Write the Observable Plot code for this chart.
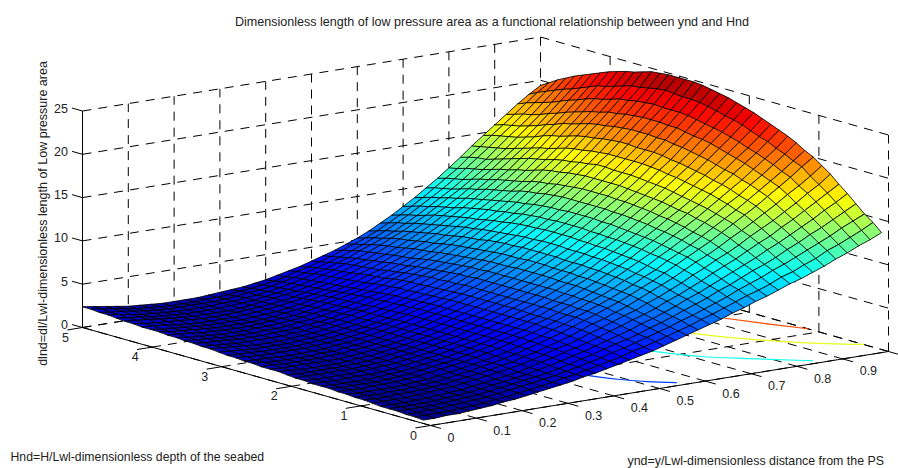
<!DOCTYPE html>
<html>
<head>
<meta charset="utf-8">
<style>html,body{margin:0;padding:0;background:#fff}svg{display:block}</style>
<script src="https://cdn.jsdelivr.net/npm/d3@7"></script>
<script src="https://cdn.jsdelivr.net/npm/@observablehq/plot@0.6"></script>
</head>
<body>
<div id="chart"></div>
<script>
const titleText = "Dimensionless length of low pressure area as a functional relationship between ynd and Hnd";
const zLabel = "dlnd=dl/Lwl-dimensionless length of Low pressure area";
const hLabel = "Hnd=H/Lwl-dimensionless depth of the seabed";
const yLabel = "ynd=y/Lwl-dimensionless distance from the PS";
const yTicks = [0, 0.1, 0.2, 0.3, 0.4, 0.5, 0.6, 0.7, 0.8, 0.9, 1];
const yTickLabels = [0, 0.1, 0.2, 0.3, 0.4, 0.5, 0.6, 0.7, 0.8, 0.9];
const hTicks = [0, 1, 2, 3, 4, 5];
const zTicks = [0, 5, 10, 15, 20, 25];
const yndValues = [0,.025,.05,.075,.1,.125,.15,.175,.2,.225,.25,.275,.3,.325,.35,.375,.4,.425,.45,.475,.5,.525,.55,.575,.6,.625,.65,.675,.7,.725,.75,.775,.8,.825,.85,.875,.9,.925,.95,.975,1];
const hndValues = [.1,.2225,.345,.4675,.59,.7125,.835,.9575,1.08,1.2025,1.325,1.4475,1.57,1.6925,1.815,1.9375,2.06,2.1825,2.305,2.4275,2.55,2.6725,2.795,2.9175,3.04,3.1625,3.285,3.4075,3.53,3.6525,3.775,3.8975,4.02,4.1425,4.265,4.3875,4.51,4.6325,4.755,4.8775,5];
const dlndRows = [
".4 .4 .5 .5 .6 .7 .8 1 1.1 1.3 1.5 1.7 1.9 2.1 2.4 2.6 2.9 3.2 3.5 3.8 4.1 4.5 4.9 5.3 5.7 6.1 6.5 7 7.4 7.9 8.3 8.8 9.3 9.7 10.2 10.7 11.3 11.8 12.4 12.9 13.5",
".5 .5 .5 .5 .6 .7 .8 1 1.1 1.3 1.5 1.7 1.9 2.2 2.4 2.7 3 3.3 3.6 4 4.3 4.7 5.1 5.5 5.9 6.4 6.8 7.3 7.8 8.3 8.7 9.2 9.8 10.2 10.8 11.3 12 12.5 13.1 13.7 14.4",
".5 .5 .6 .6 .7 .8 .9 1 1.2 1.4 1.6 1.8 2 2.2 2.5 2.8 3.1 3.4 3.8 4.1 4.5 4.9 5.3 5.7 6.2 6.6 7.1 7.6 8.1 8.7 9.2 9.7 10.3 10.8 11.4 12 12.6 13.2 13.9 14.5 15.1",
".6 .6 .6 .6 .7 .8 .9 1 1.2 1.4 1.6 1.8 2 2.2 2.5 2.8 3.2 3.5 3.9 4.3 4.6 5 5.5 5.9 6.4 6.9 7.4 7.9 8.5 9 9.6 10.2 10.7 11.3 12 12.6 13.3 13.9 14.6 15.3 16",
".6 .6 .6 .6 .7 .8 .9 1 1.2 1.4 1.6 1.8 2 2.3 2.6 2.9 3.3 3.6 4 4.4 4.8 5.2 5.7 6.1 6.6 7.1 7.7 8.2 8.8 9.4 10 10.6 11.2 11.9 12.5 13.2 13.9 14.6 15.4 16.1 16.9",
".6 .6 .6 .7 .7 .8 .9 1 1.2 1.4 1.6 1.8 2 2.3 2.7 3 3.4 3.7 4.1 4.5 5 5.4 5.9 6.3 6.8 7.4 7.9 8.5 9.1 9.8 10.4 11 11.7 12.4 13 13.8 14.5 15.3 16.1 16.9 17.7",
".7 .7 .7 .7 .8 .9 1 1.1 1.3 1.5 1.7 1.9 2.1 2.4 2.7 3.1 3.5 3.8 4.2 4.7 5.1 5.6 6.1 6.5 7.1 7.6 8.2 8.8 9.5 10.1 10.8 11.4 12.1 12.9 13.6 14.3 15.1 15.9 16.8 17.6 18.6",
".8 .7 .7 .8 .8 .9 1 1.1 1.3 1.5 1.7 1.9 2.2 2.4 2.8 3.1 3.5 3.9 4.3 4.8 5.3 5.7 6.2 6.7 7.3 7.9 8.5 9.1 9.8 10.5 11.1 11.8 12.6 13.3 14.1 14.9 15.7 16.6 17.4 18.3 19.3",
".8 .8 .7 .8 .8 .9 1 1.1 1.3 1.5 1.7 2 2.2 2.5 2.8 3.2 3.6 4 4.4 4.9 5.4 5.9 6.4 6.9 7.5 8.1 8.7 9.4 10.1 10.8 11.5 12.2 13 13.8 14.6 15.4 16.3 17.2 18.1 19.1 20",
".9 .8 .8 .8 .8 .9 1 1.1 1.3 1.5 1.7 2 2.2 2.5 2.8 3.2 3.6 4 4.5 4.9 5.5 6 6.5 7 7.6 8.2 8.9 9.5 10.3 11 11.7 12.5 13.3 14.1 14.9 15.8 16.7 17.6 18.5 19.5 20.5",
".9 .9 .8 .9 .9 1 1.1 1.2 1.4 1.6 1.8 2 2.3 2.6 2.9 3.3 3.7 4.1 4.5 5 5.5 6 6.6 7.1 7.7 8.4 9 9.7 10.5 11.2 12 12.7 13.6 14.4 15.3 16.1 17.1 18 19 20 21.1",
"1 .9 .9 .9 .9 1 1.1 1.2 1.4 1.6 1.8 2 2.3 2.6 2.9 3.3 3.7 4.1 4.6 5 5.5 6.1 6.6 7.2 7.8 8.5 9.2 9.9 10.6 11.4 12.2 13 13.8 14.7 15.6 16.5 17.4 18.4 19.4 20.4 21.6",
"1 .9 .9 .9 .9 1 1.1 1.2 1.4 1.6 1.8 2 2.3 2.6 2.9 3.3 3.7 4.1 4.6 5 5.6 6.1 6.7 7.3 7.9 8.6 9.3 10 10.8 11.6 12.4 13.2 14.1 14.9 15.9 16.8 17.8 18.8 19.8 20.9 22",
"1 1 .9 1 1 1 1.1 1.2 1.4 1.6 1.8 2 2.3 2.6 2.9 3.3 3.7 4.1 4.6 5 5.6 6.1 6.7 7.4 8 8.7 9.4 10.1 10.9 11.7 12.5 13.4 14.2 15.1 16.1 17 18 19.1 20.1 21.2 22.4",
"1.1 1 1 1 1 1.1 1.2 1.3 1.4 1.6 1.8 2 2.3 2.6 2.9 3.3 3.7 4.1 4.6 5.1 5.6 6.2 6.8 7.4 8 8.7 9.5 10.2 11 11.8 12.7 13.5 14.4 15.3 16.3 17.3 18.3 19.4 20.5 21.6 22.8",
"1.1 1.1 1.1 1.1 1.1 1.1 1.2 1.3 1.4 1.6 1.8 2 2.3 2.6 2.9 3.3 3.7 4.1 4.6 5.1 5.6 6.2 6.8 7.4 8.1 8.8 9.5 10.3 11.1 11.9 12.8 13.7 14.6 15.5 16.5 17.5 18.6 19.7 20.8 22 23.2",
"1.2 1.1 1.1 1.1 1.1 1.1 1.2 1.3 1.4 1.6 1.8 2 2.3 2.6 2.9 3.3 3.7 4.1 4.6 5.1 5.6 6.2 6.8 7.5 8.1 8.8 9.6 10.3 11.1 12 12.9 13.8 14.7 15.7 16.7 17.7 18.8 20 21.1 22.3 23.5",
"1.3 1.2 1.1 1.1 1.1 1.1 1.2 1.3 1.4 1.6 1.8 2 2.3 2.6 2.9 3.3 3.7 4.1 4.6 5.1 5.6 6.2 6.8 7.5 8.1 8.8 9.6 10.4 11.2 12.1 13 13.9 14.8 15.8 16.8 17.9 19 20.2 21.3 22.5 23.8",
"1.3 1.2 1.2 1.2 1.2 1.2 1.2 1.3 1.4 1.6 1.8 2 2.3 2.6 2.9 3.3 3.7 4.1 4.6 5.1 5.6 6.2 6.8 7.5 8.2 8.9 9.6 10.4 11.2 12.1 13 14 14.9 15.9 17 18 19.2 20.3 21.5 22.8 24.1",
"1.3 1.3 1.2 1.2 1.2 1.2 1.3 1.3 1.5 1.6 1.8 2 2.3 2.6 2.9 3.3 3.7 4.1 4.6 5.1 5.6 6.2 6.8 7.5 8.2 8.9 9.7 10.5 11.3 12.2 13.1 14 15 16 17.1 18.2 19.3 20.5 21.7 23 24.3",
"1.4 1.3 1.2 1.2 1.2 1.2 1.3 1.3 1.5 1.6 1.8 2 2.3 2.6 2.9 3.3 3.7 4.1 4.6 5.1 5.6 6.2 6.8 7.5 8.2 8.9 9.7 10.5 11.3 12.2 13.1 14.1 15.1 16.1 17.2 18.3 19.5 20.7 21.9 23.2 24.5",
"1.4 1.3 1.3 1.2 1.2 1.2 1.3 1.3 1.5 1.6 1.8 2 2.3 2.6 2.9 3.3 3.7 4.1 4.6 5.1 5.6 6.2 6.8 7.4 8.1 8.9 9.7 10.5 11.3 12.2 13.1 14.1 15.1 16.1 17.2 18.3 19.5 20.7 22 23.3 24.7",
"1.5 1.4 1.3 1.3 1.3 1.3 1.3 1.4 1.5 1.6 1.8 2 2.3 2.6 2.9 3.3 3.7 4.1 4.5 5 5.6 6.2 6.8 7.4 8.1 8.9 9.6 10.5 11.3 12.2 13.1 14.1 15.1 16.1 17.2 18.3 19.6 20.8 22 23.3 24.8",
"1.5 1.4 1.4 1.3 1.3 1.3 1.3 1.4 1.5 1.6 1.8 2 2.2 2.5 2.8 3.2 3.6 4 4.5 5 5.5 6.1 6.7 7.4 8.1 8.8 9.6 10.4 11.2 12.1 13.1 14.1 15.1 16.2 17.2 18.4 19.6 20.8 22 23.4 24.8",
"1.6 1.5 1.4 1.3 1.3 1.3 1.3 1.4 1.5 1.6 1.8 2 2.2 2.5 2.8 3.2 3.6 4 4.4 4.9 5.5 6.1 6.7 7.3 8 8.8 9.5 10.4 11.2 12.1 13.1 14 15.1 16.2 17.2 18.4 19.6 20.8 22.1 23.5 24.8",
"1.7 1.6 1.5 1.4 1.3 1.3 1.3 1.4 1.5 1.6 1.8 2 2.2 2.5 2.8 3.1 3.5 3.9 4.4 4.9 5.4 6 6.6 7.2 7.9 8.7 9.4 10.3 11.1 12 13 13.9 15 16 17.1 18.3 19.5 20.7 22 23.4 24.8",
"1.7 1.6 1.5 1.4 1.4 1.4 1.4 1.4 1.5 1.6 1.8 2 2.2 2.5 2.8 3.1 3.5 3.9 4.3 4.8 5.4 5.9 6.5 7.1 7.8 8.6 9.3 10.2 11 11.9 12.9 13.8 14.9 15.9 17 18.2 19.4 20.6 21.9 23.2 24.7",
"1.8 1.6 1.6 1.5 1.4 1.4 1.4 1.5 1.5 1.6 1.8 1.9 2.1 2.4 2.7 3 3.4 3.8 4.3 4.8 5.3 5.8 6.4 7 7.7 8.4 9.2 10 10.8 11.7 12.7 13.6 14.7 15.7 16.8 18 19.2 20.4 21.7 23 24.6",
"1.8 1.7 1.6 1.5 1.4 1.4 1.4 1.5 1.5 1.6 1.8 1.9 2.1 2.4 2.7 3 3.4 3.7 4.2 4.7 5.2 5.7 6.3 6.9 7.6 8.3 9.1 9.9 10.7 11.6 12.6 13.5 14.6 15.6 16.7 17.9 19.1 20.3 21.6 22.9 24.3",
"1.9 1.7 1.6 1.5 1.4 1.4 1.4 1.5 1.5 1.6 1.7 1.9 2.1 2.3 2.6 2.9 3.3 3.6 4.1 4.6 5.1 5.6 6.2 6.8 7.5 8.2 8.9 9.7 10.5 11.4 12.4 13.3 14.4 15.4 16.5 17.7 18.9 20 21.3 22.6 24",
"1.9 1.8 1.7 1.5 1.5 1.4 1.4 1.4 1.5 1.6 1.7 1.8 2 2.3 2.6 2.9 3.2 3.5 4 4.4 4.9 5.4 6 6.6 7.3 8 8.8 9.5 10.4 11.2 12.1 13 14.1 15.1 16.2 17.4 18.6 19.8 21 22.3 23.8",
"2 1.8 1.7 1.6 1.5 1.4 1.4 1.4 1.4 1.5 1.6 1.8 2 2.2 2.5 2.8 3.1 3.4 3.8 4.3 4.8 5.3 5.8 6.5 7.1 7.8 8.6 9.4 10.2 11 11.9 12.8 13.8 14.9 15.9 17.1 18.3 19.5 20.8 22 23.5",
"2 1.8 1.7 1.6 1.5 1.4 1.4 1.4 1.4 1.5 1.6 1.7 1.9 2.1 2.4 2.7 3 3.3 3.7 4.2 4.6 5.2 5.7 6.4 7 7.7 8.4 9.2 10 10.8 11.7 12.6 13.6 14.7 15.7 16.9 18.1 19.2 20.5 21.8 23.2",
"2 1.9 1.8 1.6 1.5 1.4 1.4 1.4 1.4 1.5 1.6 1.7 1.9 2.1 2.3 2.6 2.9 3.2 3.6 4.1 4.5 5 5.6 6.2 6.8 7.5 8.2 9 9.8 10.6 11.5 12.4 13.3 14.4 15.4 16.6 17.7 18.9 20.1 21.4 22.8",
"2.1 1.9 1.8 1.7 1.6 1.5 1.4 1.4 1.4 1.5 1.6 1.7 1.8 2 2.2 2.5 2.8 3.1 3.5 3.9 4.4 4.9 5.4 6 6.6 7.3 8 8.8 9.5 10.4 11.2 12.1 13.1 14.1 15.1 16.2 17.4 18.5 19.8 21 22.4",
"2.1 2 1.9 1.7 1.6 1.5 1.4 1.4 1.4 1.4 1.5 1.6 1.8 2 2.2 2.4 2.7 3 3.4 3.8 4.3 4.7 5.3 5.9 6.5 7.1 7.8 8.6 9.3 10.1 11 11.9 12.8 13.8 14.8 15.9 17 18.2 19.4 20.6 22",
"2.2 2 1.9 1.7 1.6 1.5 1.4 1.4 1.4 1.4 1.5 1.6 1.7 1.9 2.1 2.3 2.6 2.9 3.3 3.7 4.2 4.6 5.1 5.7 6.3 6.9 7.6 8.3 9.1 9.9 10.7 11.6 12.5 13.5 14.5 15.6 16.7 17.8 19 20.3 21.6",
"2.3 2.1 1.9 1.7 1.6 1.5 1.4 1.4 1.4 1.4 1.5 1.5 1.7 1.8 2 2.2 2.5 2.8 3.2 3.5 4 4.4 5 5.5 6 6.6 7.3 8 8.8 9.6 10.4 11.3 12.3 13.2 14.3 15.4 16.4 17.5 18.7 19.9 21.1",
"2.3 2.1 2 1.8 1.6 1.5 1.4 1.4 1.4 1.4 1.4 1.5 1.6 1.8 1.9 2.1 2.4 2.7 3 3.4 3.8 4.2 4.7 5.2 5.8 6.4 7.1 7.8 8.6 9.4 10.2 11.1 12.1 13.1 14.1 15.2 16.2 17.3 18.4 19.5 20.6",
"2.4 2.2 2 1.8 1.6 1.5 1.4 1.3 1.3 1.3 1.4 1.4 1.5 1.7 1.8 2 2.2 2.5 2.9 3.2 3.6 4 4.5 5 5.5 6.1 6.8 7.5 8.3 9.1 10 10.9 11.8 12.9 13.9 15 16 17 18.1 19.1 20",
"2.4 2.2 2 1.8 1.6 1.5 1.4 1.3 1.3 1.3 1.3 1.4 1.5 1.6 1.7 1.9 2.1 2.4 2.7 3 3.4 3.8 4.2 4.7 5.2 5.8 6.5 7.2 8 8.8 9.7 10.6 11.6 12.6 13.7 14.7 15.7 16.7 17.7 18.6 19.4"
];
const contourLevels = [5, 10, 15, 20];
const contourYnd = [[.466,.487,.517,.552],[.674,.715,.773,.849],[.817,.853,.922,1],[.937,.968,1]];
const contourHnd = [[.79,.52,.29,.1],[1.25,.82,.49,.1],[1.62,1.25,.75,.36],[1.935,1.53,1.16]];

const dlnd = dlndRows.map(r => r.split(" ").map(Number));
const px = (y, h) => 430 + 458 * y - 69.6 * h;
const py = (y, h, z) => 425 - 74 * y - 19.6 * h - 8.66 * z;
const pt = (y, h, z) => ({x: px(y, h), y: py(y, h, z)});

// surface faces, back to front, one colour from each face's first corner
const faces = [];
let id = 0;
for (let i = hndValues.length - 2; i >= 0; i--) {
  for (let j = yndValues.length - 2; j >= 0; j--) {
    const v = dlnd[i][j];
    for (const [a, b] of [[i, j], [i, j + 1], [i + 1, j + 1], [i + 1, j]]) {
      faces.push({face: id, v, ...pt(yndValues[b], hndValues[a], dlnd[a][b])});
    }
    id++;
  }
}
const contours = [];
contourLevels.forEach((lv, k) => contourYnd[k].forEach((y, n) => contours.push({lv, ...pt(y, contourHnd[k][n], 0)})));

const seg = (a, b) => ({x1: a.x, y1: a.y, x2: b.x, y2: b.y});
const grid = [
  ...yTicks.map(y => seg(pt(y, 0, 0), pt(y, 5, 0))),
  ...hTicks.map(h => seg(pt(0, h, 0), pt(1, h, 0))),
  ...yTicks.map(y => seg(pt(y, 5, 0), pt(y, 5, 25))),
  ...hTicks.map(h => seg(pt(1, h, 0), pt(1, h, 25))),
  ...zTicks.map(z => seg(pt(0, 5, z), pt(1, 5, z))),
  ...zTicks.map(z => seg(pt(1, 5, z), pt(1, 0, z)))
];
const axes = [
  seg(pt(0, 5, 0), pt(0, 5, 25)),
  seg(pt(0, 5, 0), pt(0, 0, 0)),
  seg(pt(0, 0, 0), pt(1, 0, 0)),
  ...zTicks.map(z => seg(pt(0, 5, z), pt(0, 5.15, z))),
  ...hTicks.map(h => seg(pt(0, h, 0), pt(-0.033, h, 0))),
  ...yTicks.map(y => seg(pt(y, 0, 0), pt(y, -0.15, 0)))
];

const clim = [0.4, 24.8];
const t = f => clim[0] + f * (clim[1] - clim[0]);
const font = {fontFamily: "Liberation Sans, Arial, sans-serif", fill: "#222", stroke: "none"};
const lineAttrs = {stroke: "#000", strokeWidth: 1};

const chart = Plot.plot({
  width: 898, height: 468,
  marginTop: 0, marginRight: 0, marginBottom: 0, marginLeft: 0,
  style: {background: "#fff"},
  x: {domain: [0, 898], range: [0, 898], axis: null},
  y: {domain: [0, 468], range: [0, 468], axis: null},
  color: {
    type: "linear",
    domain: [t(0), t(.125), t(.375), t(.625), t(.875), t(1)],
    range: ["#00008f", "#0000ff", "#00ffff", "#ffff00", "#ff0000", "#800000"],
    interpolate: "rgb"
  },
  marks: [
    Plot.link(grid, {x1: "x1", y1: "y1", x2: "x2", y2: "y2", ...lineAttrs, strokeDasharray: "9,7"}),
    Plot.link(axes, {x1: "x1", y1: "y1", x2: "x2", y2: "y2", ...lineAttrs}),
    Plot.line(contours, {x: "x", y: "y", z: "lv", stroke: "lv", strokeWidth: 1.2, curve: "monotone-x"}),
    Plot.line(faces, {x: "x", y: "y", z: "face", fill: "v", stroke: "#000", strokeWidth: 0.85, strokeLinejoin: "round", curve: "linear-closed"}),
    Plot.text(zTicks, {x: () => px(0, 5) - 14.5, y: z => py(0, 5, z) - 2.5, text: String, textAnchor: "end", fontSize: 12.5, ...font}),
    Plot.text(hTicks, {x: h => px(0, h) - 17, y: h => py(0, h, 0) + 10, text: String, fontSize: 12.5, ...font}),
    Plot.text(yTickLabels, {x: y => px(y, 0) + 17, y: y => py(y, 0, 0) + 12.5, text: String, textAnchor: "start", fontSize: 12.5, ...font}),
    Plot.text([titleText], {x: () => 491.5, y: () => 21, text: String, fontSize: 12.55, ...font}),
    Plot.text([zLabel], {x: () => 42, y: () => 213, text: String, rotate: -90, fontSize: 12.5, ...font}),
    Plot.text([hLabel], {x: () => 10, y: () => 456.5, text: String, textAnchor: "start", fontSize: 12.25, ...font}),
    Plot.text([yLabel], {x: () => 627, y: () => 460.5, text: String, textAnchor: "start", fontSize: 12.4, ...font})
  ]
});
document.getElementById("chart").append(chart);
</script>
</body>
</html>
